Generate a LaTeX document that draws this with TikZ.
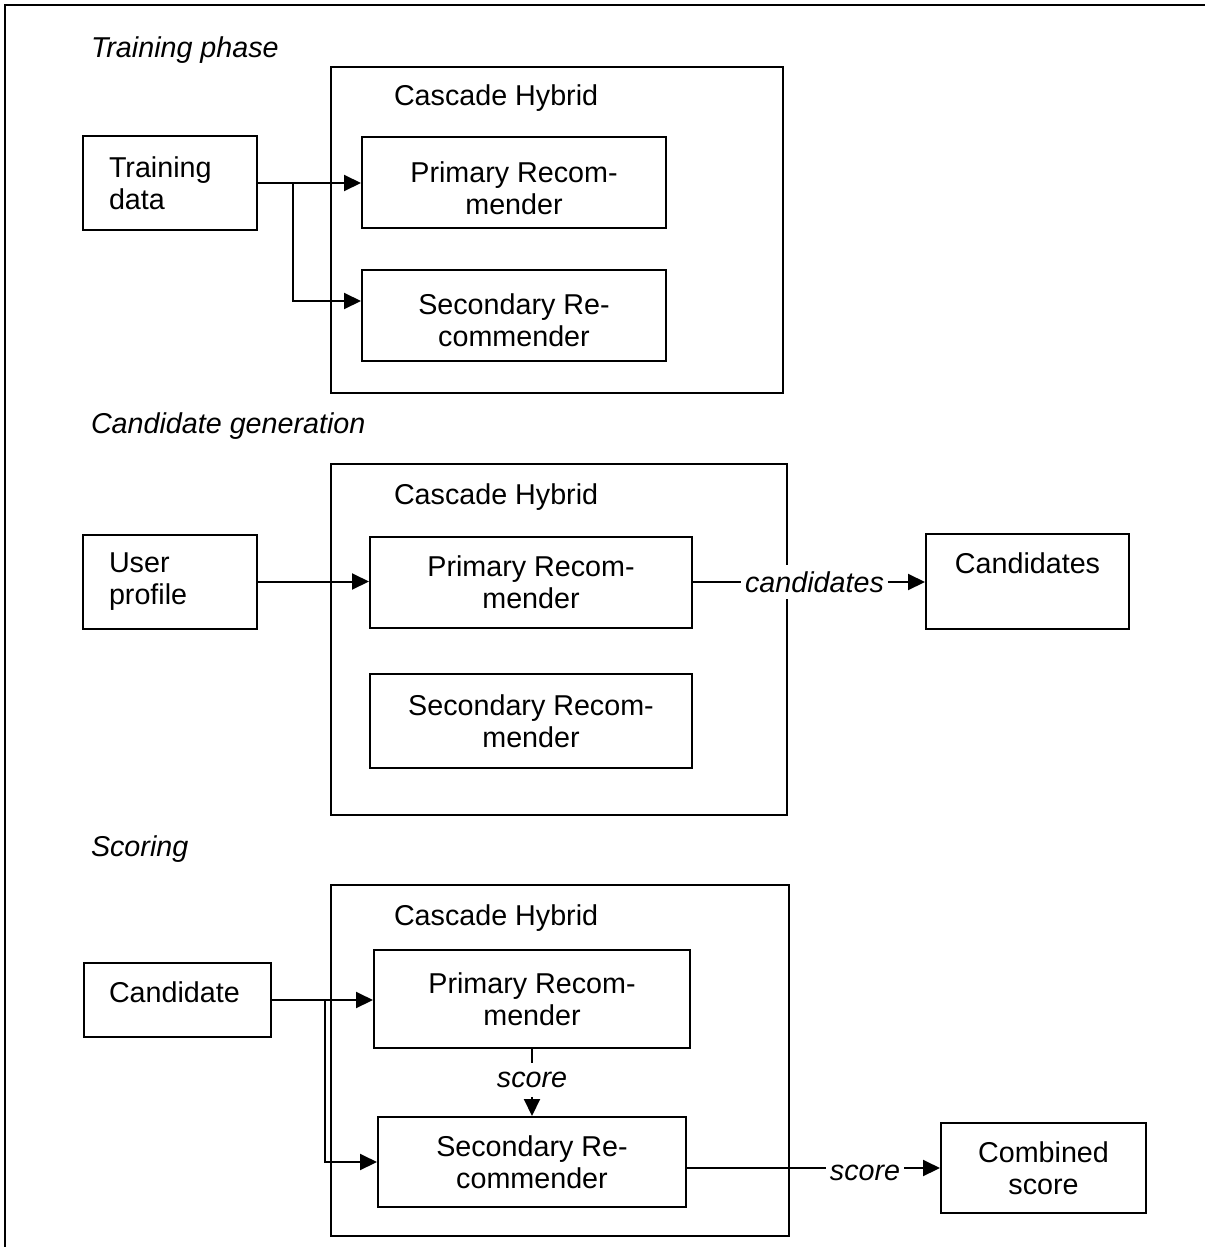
\documentclass[tikz,border=0pt]{standalone}
\usepackage{fontspec}
\setmainfont{Liberation Sans}
\usetikzlibrary{arrows.meta}
\newcommand{\dfont}{\fontsize{28.7}{32}\selectfont}
\begin{document}
\begin{tikzpicture}[x=1pt,y=-1pt,line width=2pt,
  every node/.style={font=\dfont},
  box/.style={draw,rectangle,inner sep=0pt,align=center},
  lbox/.style={draw,rectangle,inner ysep=0pt,inner xsep=26pt,align=left},
  hybrid/.style={draw,rectangle,inner sep=0pt},
  title/.style={font=\dfont\itshape,inner sep=0pt,anchor=base west},
  htitle/.style={inner sep=0pt,anchor=base west},
  clab/.style={font=\dfont\itshape,fill=white,inner xsep=3pt,inner ysep=6pt},
  arr/.style={-{Triangle[length=17pt,width=16pt]}}
]
\useasboundingbox (0,0) rectangle (1205,1247);
% outer frame (left and top only)
\draw (5,1247) -- (5,5) -- (1205,5);

% ---------------- Training phase ----------------
\node[title] (t1) at (90,58) {Training phase};
\node[hybrid,minimum width=452,minimum height=326] (c1) at (557,230) {};
\node[htitle] (h1) at (393,105) {Cascade Hybrid};
\node[lbox,minimum height=94,text width=122] (td) at (170,183) {Training\\data};
\node[box,minimum width=304,minimum height=91,
  label={[inner sep=0pt,align=center,yshift=-6pt]center:{Primary Recom-\\mender}}] (p1) at (514,182.5) {};
\node[box,minimum width=304,minimum height=91,
  label={[inner sep=0pt,align=center,yshift=-4.5pt]center:{Secondary Re-\\commender}}] (s1) at (514,315.5) {};
\draw[arr] (td.east) -- (td.east -| p1.west);
\coordinate (j1) at (293,183);
\coordinate (e1) at (361,301);
\draw[arr] (j1) |- (e1 -| s1.west);

% ---------------- Candidate generation ----------------
\node[title] (t2) at (90,433) {Candidate generation};
\node[hybrid,minimum width=456,minimum height=351] (c2) at (559,639.5) {};
\node[htitle] (h2) at (393,504) {Cascade Hybrid};
\node[lbox,minimum height=94,text width=122] (up) at (170,581.5) {User\\profile};
\node[box,minimum width=322,minimum height=91] (p2) at (531,582.5) {Primary Recom-\\mender};
\node[box,minimum width=322,minimum height=94] (s2) at (531,721) {Secondary Recom-\\mender};
\node[box,minimum width=203,minimum height=95] (cands) at (1027.5,581.5) {\raisebox{36pt}{Candidates}};
\draw[arr] (up.east) -- (up.east -| p2.west);
\node[clab] (lc) at (814.5,582) {candidates};
\draw (p2.east |- lc.west) -- (lc.west);
\draw[arr] (lc.east) -- (lc.east -| cands.west);

% ---------------- Scoring ----------------
\node[title] (t3) at (90,856) {Scoring};
\node[hybrid,minimum width=458,minimum height=351] (c3) at (560,1060.5) {};
\node[htitle] (h3) at (393,925) {Cascade Hybrid};
\node[lbox,minimum height=74,text width=137,inner xsep=25pt] (cd) at (177.5,1000) {\raisebox{16pt}{Candidate}};
\node[box,minimum width=316,minimum height=98] (p3) at (532,999) {Primary Recom-\\mender};
\node[box,minimum width=308,minimum height=90] (s3) at (532,1162) {Secondary Re-\\commender};
\node[box,minimum width=205,minimum height=90] (cs) at (1043.5,1168) {Combined\\score};
\draw[arr] (cd.east) -- (cd.east -| p3.west);
\coordinate (j3) at (325,1000);
\draw[arr] (j3) |- (s3.west);
\node[clab,inner ysep=8pt] (ls) at (532,1080) {score};
\draw (p3.south) -- (ls.north);
\draw[arr] (ls.south) -- (s3.north);
\coordinate (sl) at (686,1168);
\node[clab] (lh) at (865,1173) {score};
\draw (s3.east |- sl) -- (sl -| lh.west);
\draw[arr] (sl -| lh.east) -- (sl -| cs.west);
\end{tikzpicture}
\end{document}
